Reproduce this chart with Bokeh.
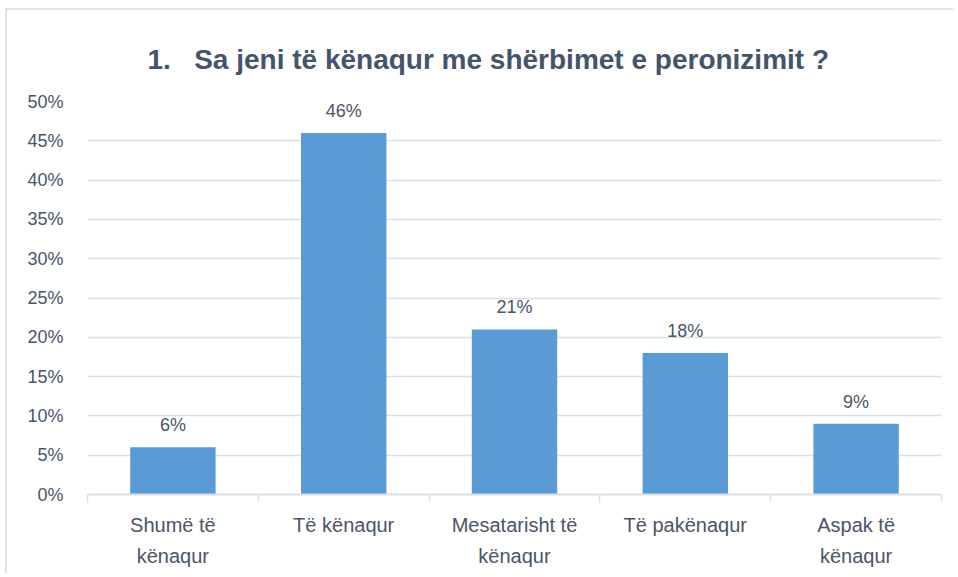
from bokeh.plotting import figure
from bokeh.models import FixedTicker, NumeralTickFormatter, ColumnDataSource
from bokeh.core.properties import value
from bokeh.embed import file_html
from bokeh.resources import INLINE

categories = ["Shumë të\nkënaqur", "Të kënaqur", "Mesatarisht të\nkënaqur", "Të pakënaqur", "Aspak të\nkënaqur"]
values = [0.06, 0.46, 0.21, 0.18, 0.09]
value_labels = ["6%", "46%", "21%", "18%", "9%"]
y_ticks = [0.0, 0.05, 0.10, 0.15, 0.20, 0.25, 0.30, 0.35, 0.40, 0.45, 0.50]
title_text = "1.\u00a0\u00a0\u00a0Sa jeni të kënaqur me shërbimet e peronizimit ?"

FONT = "Liberation Sans"
TXT = "#4a5568"

xs = list(range(1, len(categories) + 1))
src = ColumnDataSource(dict(x=xs, top=values, lab=value_labels))

p = figure(width=948, height=565, output_backend="svg", toolbar_location=None,
           x_range=(0.5, len(categories) + 0.5), y_range=(0, y_ticks[-1]),
           min_border_left=80, min_border_right=14, min_border_top=91, min_border_bottom=81)

p.title.text = title_text
p.title.align = "left"
p.title.vertical_align = "middle"
p.title.text_font = FONT
p.title.text_font_size = "28px"
p.title.text_font_style = "bold"
p.title.text_color = "#44546A"
p.title.offset = 60
p.title.standoff = 52

p.vbar(x="x", top="top", width=0.5, source=src, fill_color="#5b9bd5", line_color=None)
p.text(x="x", y="top", text="lab", source=src, text_align="center", text_baseline="bottom",
       y_offset=-12, text_font=value(FONT), text_font_size="18px", text_color=TXT)

p.outline_line_color = None
p.xgrid.grid_line_color = None
p.ygrid.grid_line_color = "#dcdfe3"
p.ygrid.grid_line_width = 1.5
p.ygrid.ticker = FixedTicker(ticks=y_ticks)

p.yaxis.ticker = FixedTicker(ticks=y_ticks)
p.yaxis.formatter = NumeralTickFormatter(format="0%")
p.yaxis.axis_line_color = None
p.yaxis.major_tick_line_color = None
p.yaxis.major_tick_out = 0
p.yaxis.minor_tick_line_color = None
p.yaxis.major_label_standoff = 24
p.yaxis.major_label_text_font = FONT
p.yaxis.major_label_text_font_size = "18px"
p.yaxis.major_label_text_color = TXT

p.xaxis.ticker = FixedTicker(ticks=xs, minor_ticks=[i - 0.5 for i in range(1, len(categories) + 2)])
p.xaxis.major_label_overrides = {x: c for x, c in zip(xs, categories)}
p.xaxis.axis_line_color = "#dcdfe3"
p.xaxis.axis_line_width = 2
p.xaxis.major_tick_line_color = None
p.xaxis.major_tick_out = 0
p.xaxis.minor_tick_line_color = "#dcdfe3"
p.xaxis.minor_tick_line_width = 1.5
p.xaxis.minor_tick_out = 8
p.xaxis.minor_tick_in = 0
p.xaxis.major_label_standoff = 11
p.xaxis.major_label_text_font = FONT
p.xaxis.major_label_text_font_size = "20px"
p.xaxis.major_label_text_color = TXT
p.xaxis.major_label_text_line_height = 1.45

p.styles = {"margin": "8px 0 0 5px", "border-left": "2px solid #dde3ea", "border-top": "2px solid #dde3ea"}

open("out.html", "w").write(file_html(p, INLINE))
